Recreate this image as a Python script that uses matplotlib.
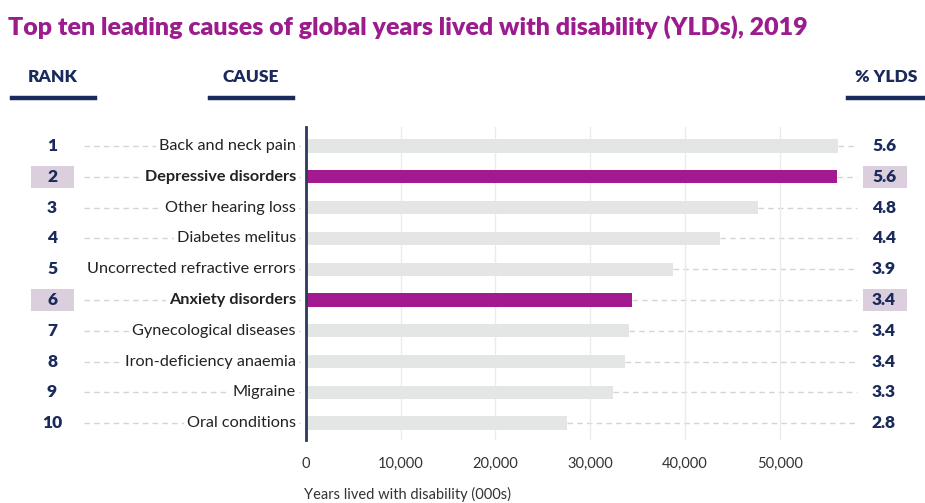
import matplotlib
matplotlib.use("Agg")
import matplotlib.pyplot as plt
from matplotlib.patches import Rectangle
from matplotlib.transforms import blended_transform_factory

plt.rcParams['font.family'] = ['Lato', 'DejaVu Sans']

causes = ["Back and neck pain", "Depressive disorders", "Other hearing loss",
          "Diabetes melitus", "Uncorrected refractive errors", "Anxiety disorders",
          "Gynecological diseases", "Iron-deficiency anaemia", "Migraine",
          "Oral conditions"]
ranks = [1, 2, 3, 4, 5, 6, 7, 8, 9, 10]
ylds_000s = [56200, 56000, 47700, 43700, 38700, 34400, 34100, 33700, 32400, 27600]
pct_ylds = ["5.6", "5.6", "4.8", "4.4", "3.9", "3.4", "3.4", "3.4", "3.3", "2.8"]
highlight = ["Depressive disorders", "Anxiety disorders"]
xticks = [0, 10000, 20000, 30000, 40000, 50000]

NAVY = "#1b2a5c"
PURPLE = "#a3198f"
GREY_BAR = "#e4e5e5"
HILITE = "#dccfdd"
DASH = "#d4d4d4"

W, H = 925, 503
fig = plt.figure(figsize=(W / 100, H / 100), dpi=100)

# axes placement in pixels
ax_left, ax_right, ax_top, ax_bot = 306, 846, 127, 440
ax = fig.add_axes([ax_left / W, 1 - ax_bot / H, (ax_right - ax_left) / W, (ax_bot - ax_top) / H])
ax.set_xlim(0, 57000)
ax.set_ylim(9.55, -0.62)

ypos = list(range(len(causes)))
colors = [PURPLE if c in highlight else GREY_BAR for c in causes]
ax.barh(ypos, ylds_000s, height=0.43, color=colors, zorder=3)

for s in ["top", "right", "bottom"]:
    ax.spines[s].set_visible(False)
ax.spines["left"].set_color("#2b3a5e")
ax.spines["left"].set_linewidth(2)
ax.spines["left"].set_zorder(5)

ax.set_yticks([])
ax.set_xticks(xticks)
ax.set_xticklabels([f"{v:,}" for v in xticks], fontsize=10.5, color="#333333")
ax.tick_params(axis="x", length=0, pad=12)
ax.grid(axis="x", color="#ebebeb", linewidth=1, zorder=0)

# dashed leader lines
figx = blended_transform_factory(fig.transFigure, ax.transData)
for y, v in zip(ypos, ylds_000s):
    ax.plot([84 / W, 300 / W], [y, y], transform=figx, color=DASH, lw=1,
            ls=(0, (4, 3)), clip_on=False, zorder=1)
    ax.plot([v, 58200], [y, y], color=DASH, lw=1, ls=(0, (4, 3)),
            clip_on=False, zorder=1)

# cause labels, rank numbers and % values
for y, c, r, p in zip(ypos, causes, ranks, pct_ylds):
    hl = c in highlight
    ax.text(296 / W, y, c, transform=figx, ha="right", va="center", fontsize=11.7,
            color="#222222", fontweight="bold" if hl else "normal",
            bbox=dict(facecolor="white", edgecolor="none", pad=2), zorder=4)
    ax.text(52 / W, y, str(r), transform=figx, ha="center", va="center",
            fontsize=12.5, color=NAVY, fontweight="heavy", zorder=4)
    ax.text(884 / W, y, p, transform=figx, ha="center", va="center",
            fontsize=12.5, color=NAVY, fontweight="heavy", zorder=4)
    if hl:
        ax.add_patch(Rectangle((31 / W, y - 0.36), 43 / W, 0.72, transform=figx,
                               facecolor=HILITE, edgecolor="none", clip_on=False, zorder=2))
        ax.add_patch(Rectangle((863 / W, y - 0.36), 44 / W, 0.72, transform=figx,
                               facecolor=HILITE, edgecolor="none", clip_on=False, zorder=2))

# x axis title
fig.text(304 / W, 1 - 494 / H, "Years lived with disability (000s)", ha="left",
         va="center", fontsize=10.5, color="#333333")

# column headers with underlines
for x, txt, x0, x1 in [(53, "RANK", 12, 95), (251, "CAUSE", 210, 293), (886, "% YLDS", 848, 925)]:
    fig.text(x / W, 1 - 77 / H, txt, ha="center", va="center", fontsize=12.5,
             color=NAVY, fontweight="heavy")
    fig.add_artist(plt.Line2D([x0 / W, x1 / W], [1 - 98 / H, 1 - 98 / H],
                              transform=fig.transFigure, color=NAVY, lw=3.2))

fig.text(8 / W, 1 - 27 / H,
         "Top ten leading causes of global years lived with disability (YLDs), 2019",
         ha="left", va="center", fontsize=18, color="#9c1c8e", fontweight="heavy")

fig.savefig("out.png", dpi=100, facecolor="white")
